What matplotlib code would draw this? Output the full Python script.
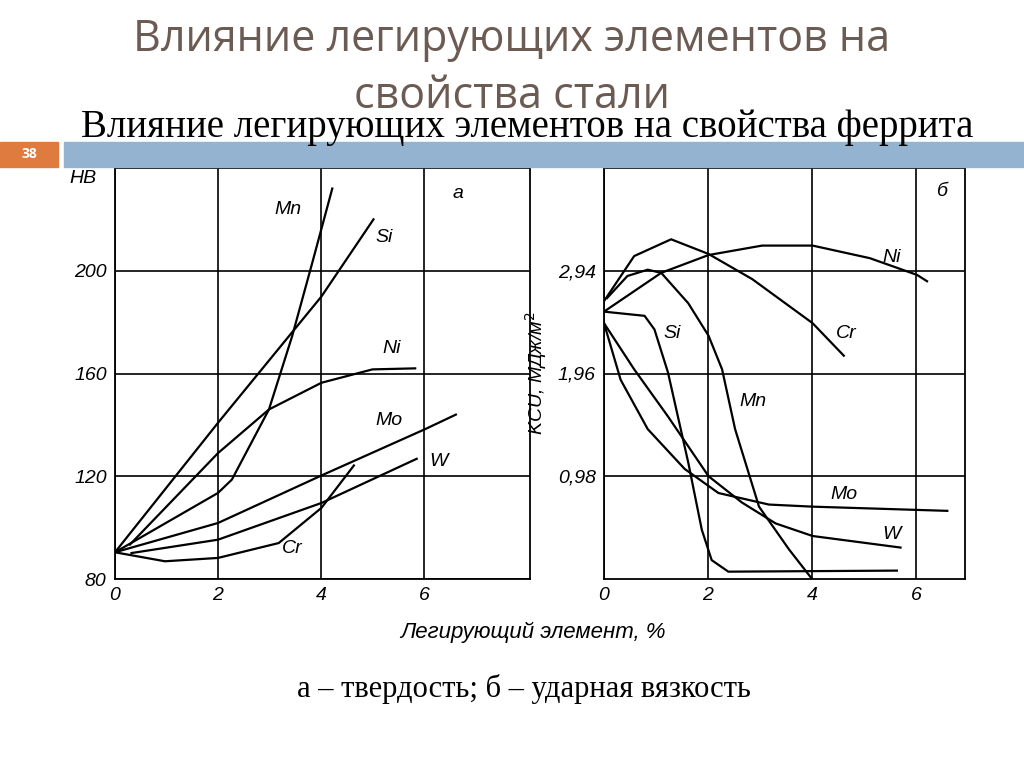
import matplotlib
matplotlib.use("Agg")
import matplotlib.pyplot as plt
from matplotlib.patches import Rectangle

# Hardness HB vs alloying element %
hb = {
    "Mn": ([0, 2, 2.27, 2.99, 3.44, 3.83, 4.22], [90.4, 113.5, 118.7, 146, 174.5, 203, 232]),
    "Si": ([0, 2, 4.01, 5.02], [90.4, 140.8, 190, 220]),
    "Ni": ([0.29, 2, 2.99, 4.01, 5, 5.83], [93.4, 129, 146, 156.4, 161.6, 162]),
    "Mo": ([0, 2, 4.01, 6.03, 6.62], [90.4, 101.8, 120.3, 138.4, 144]),
    "W":  ([0.32, 2, 4.01, 5.86], [90.1, 95.3, 109.6, 126.8]),
    "Cr": ([0, 0.97, 2, 3.18, 4.01, 4.64], [90.4, 86.9, 88.2, 94, 107.7, 124.2]),
}
hb_labels = {"Mn": (3.1, 222), "Si": (5.05, 211), "Ni": (5.2, 168), "Mo": (5.05, 140), "W": (6.1, 124), "Cr": (3.25, 90)}

# Impact toughness KCU, MJ/m2
kcu = {
    "Ni": ([0, 1.1, 2.01, 3.04, 4.01, 5.11, 6.02, 6.21], [2.55, 2.92, 3.09, 3.18, 3.18, 3.06, 2.90, 2.84]),
    "Cr": ([0, 0.58, 1.29, 2.01, 2.85, 4.01, 4.61], [2.65, 3.08, 3.24, 3.10, 2.86, 2.44, 2.13]),
    "Mn": ([0.06, 0.45, 0.84, 1.1, 1.62, 2.01, 2.27, 2.52, 2.98, 3.56, 4.0], [2.68, 2.89, 2.95, 2.92, 2.63, 2.32, 2.0, 1.43, 0.69, 0.28, 0.0]),
    "Si": ([0, 0.78, 0.97, 1.23, 1.62, 1.88, 2.07, 2.39, 5.63], [2.55, 2.51, 2.38, 1.97, 1.11, 0.47, 0.18, 0.07, 0.08]),
    "Mo": ([0, 0.32, 0.84, 1.55, 2.2, 3.17, 4.01, 6.6], [2.44, 1.90, 1.43, 1.05, 0.82, 0.71, 0.69, 0.65]),
    "W":  ([0, 0.58, 1.23, 2.01, 2.65, 3.3, 4.01, 5.7], [2.44, 2.0, 1.55, 0.98, 0.73, 0.53, 0.41, 0.30]),
}
kcu_labels = {"Ni": (5.35, 3.02), "Cr": (4.45, 2.3), "Mn": (2.6, 1.65), "Si": (1.15, 2.3), "Mo": (4.35, 0.76), "W": (5.35, 0.38)}

hb_yticks = [80, 120, 160, 200]
kcu_yticks = [0.98, 1.96, 2.94]
kcu_yticklabels = ["0,98", "1,96", "2,94"]
xticks = [0, 2, 4, 6]

plt.rcParams['font.family'] = ['Liberation Sans', 'DejaVu Sans']
fig = plt.figure(figsize=(10.24, 7.67), dpi=100)

fig.text(0.5, 1 - 40/767, "Влияние легирующих элементов на", ha='center', va='center',
         fontsize=31, color='#6b5b52', family=['Open Sans', 'DejaVu Sans'])
fig.text(0.5, 1 - 97/767, "свойства стали", ha='center', va='center',
         fontsize=31, color='#6b5b52', family=['Open Sans', 'DejaVu Sans'])
fig.text(0.515, 1 - 128/767, "Влияние легирующих элементов на свойства феррита", ha='center', va='center',
         fontsize=28, color='black', family=['Liberation Serif', 'DejaVu Serif'])
fig.patches.append(Rectangle((0, 1 - 167/767), 58/1024, 25/767, transform=fig.transFigure,
                             color='#e07b3f', zorder=0))
fig.patches.append(Rectangle((64/1024, 1 - 167/767), 960/1024, 25/767, transform=fig.transFigure,
                             color='#93b3d0', zorder=0))
fig.text(29/1024, 1 - 154.5/767, "38", ha='center', va='center', fontsize=10,
         color='white', weight='bold', family=['Open Sans', 'DejaVu Sans'])

axL = fig.add_axes([115/1024, 188/767, 415/1024, 411/767])
axR = fig.add_axes([604/1024, 188/767, 361/1024, 411/767])

def style(ax):
    for s in ax.spines.values():
        s.set_linewidth(1.3)
    ax.tick_params(length=0, labelsize=14, pad=6)
    ax.grid(True, color='black', linewidth=1.2)
    ax.set_xticks(xticks)

axL.set_xlim(0, 8.06)
axL.set_ylim(80, 240)
axL.set_yticks(hb_yticks)
style(axL)
for k, (x, y) in hb.items():
    axL.plot(x, y, color='black', lw=1.6)
    axL.text(*hb_labels[k], k, fontsize=14, style='italic')
axL.text(-0.35, 236, "HB", ha='right', va='center', fontsize=14, style='italic')
axL.text(6.55, 230, "a", ha='left', va='center', fontsize=14, style='italic')

axR.set_xlim(0, 6.94)
axR.set_ylim(0, 3.92)
axR.set_yticks(kcu_yticks)
axR.set_yticklabels(kcu_yticklabels)
style(axR)
for k, (x, y) in kcu.items():
    axR.plot(x, y, color='black', lw=1.6)
    axR.text(*kcu_labels[k], k, fontsize=14, style='italic')
axR.text(6.4, 3.7, "б", ha='left', va='center', fontsize=14, style='italic')
axR.set_ylabel("KCU, МДж/м$^2$", fontsize=14, style='italic', labelpad=6)

for ax in (axL, axR):
    for t in ax.get_xticklabels() + ax.get_yticklabels():
        t.set_fontstyle('italic')

fig.text(0.52, 1 - 632/767, "Легирующий элемент, %", ha='center', va='center',
         fontsize=16, style='italic')
fig.text(0.512, 1 - 689/767, "а – твердость; б – ударная вязкость", ha='center', va='center',
         fontsize=22, family=['Liberation Serif', 'DejaVu Serif'])

fig.savefig("out.png", dpi=100)
